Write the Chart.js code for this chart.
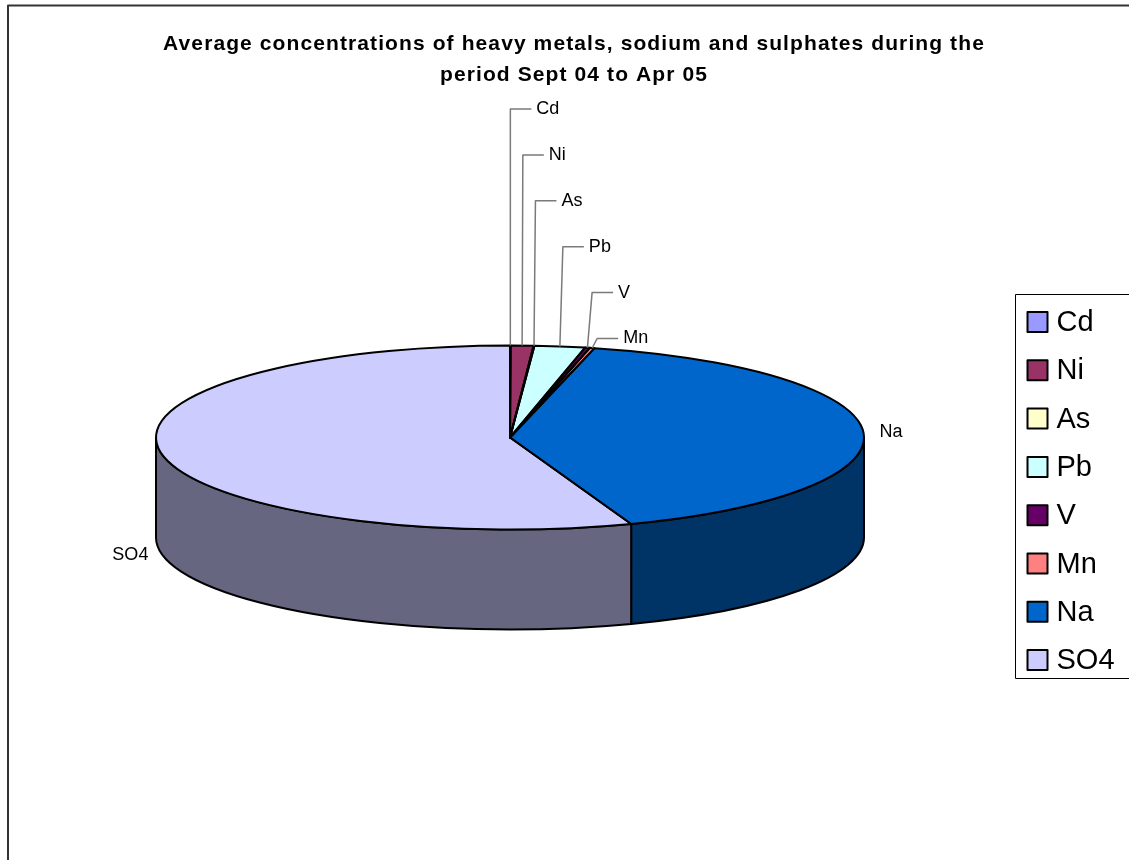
<!DOCTYPE html>
<html>
<head>
<meta charset="utf-8">
<script src="https://cdn.jsdelivr.net/npm/chart.js@4/dist/chart.umd.min.js"></script>
<style>
  html, body { margin: 0; padding: 0; background: #fff; }
  canvas { display: block; }
</style>
</head>
<body>
<canvas id="chart" width="1129" height="860"></canvas>
<script>
// Species measured and their share of the total average concentration (%)
const species = ['Cd', 'Ni', 'As', 'Pb', 'V', 'Mn', 'Na', 'SO4'];
const shares = [0.03, 1.03, 0.04, 2.30, 0.22, 0.22, 40.60, 55.56];
const colours = ['#9999FF', '#993366', '#FFFFCC', '#CCFFFF', '#660066', '#FF8080', '#0066CC', '#CCCCFF'];
const titleLines = [
  'Average concentrations of heavy metals, sodium and sulphates during the',
  'period Sept 04 to Apr 05'
];

const FONT = '"Liberation Sans", Arial, Helvetica, sans-serif';

// Tilted-disc projection: where the disc sits, how flat it looks, how thick it is
const DISC = { cx: 510, cy: 437.5, tilt: 92 / 354, depth: 100 };
// Stacked call-outs for the thin slices
const CALLOUT = { top: 109, step: 45.9, arm: 21, gap: 5, lean: 0.06, limit: 5 };
// Legend box
const LEGEND = { x: 1015.5, y: 294.5, w: 200, h: 384, swatch: 20, first: 322, step: 48.3 };

function darken(hex, f) {
  const n = parseInt(hex.slice(1), 16);
  const r = (n >> 16) & 255, g = (n >> 8) & 255, b = n & 255;
  return 'rgb(' + Math.round(r * f) + ',' + Math.round(g * f) + ',' + Math.round(b * f) + ')';
}

function toDisc(ctx, arc) {
  ctx.translate(DISC.cx, DISC.cy);
  ctx.scale(1, DISC.tilt);
  ctx.translate(-arc.x, -arc.y);
}

const disc3d = {
  id: 'disc3d',
  beforeDraw(chart) {
    // the title is set with a little tracking
    chart.ctx.letterSpacing = '1.1px';
  },
  beforeDatasetsDraw(chart) {
    const ctx = chart.ctx;
    ctx.letterSpacing = '0px';
    const arcs = chart.getDatasetMeta(0).data;
    const R = arcs[0].outerRadius;
    const ry = R * DISC.tilt;
    // side wall of each slice, front half of the disc only
    arcs.forEach((arc, i) => {
      const a1 = Math.max(arc.startAngle, 0);
      const a2 = Math.min(arc.endAngle, Math.PI);
      if (a2 <= a1) return;
      ctx.beginPath();
      ctx.ellipse(DISC.cx, DISC.cy, R, ry, 0, a1, a2);
      ctx.ellipse(DISC.cx, DISC.cy + DISC.depth, R, ry, 0, a2, a1, true);
      ctx.closePath();
      ctx.fillStyle = darken(colours[i], 0.5);
      ctx.fill();
      ctx.lineWidth = 2;
      ctx.lineJoin = 'round';
      ctx.strokeStyle = '#000';
      ctx.stroke();
    });
    // top faces are drawn by the library through the flattening transform
    ctx.save();
    toDisc(ctx, arcs[0]);
  },
  afterDatasetsDraw(chart) {
    const ctx = chart.ctx;
    ctx.restore();
    const arcs = chart.getDatasetMeta(0).data;
    const R = arcs[0].outerRadius;
    const ry = R * DISC.tilt;

    // slice outlines on the top face, stroked at device line width
    arcs.forEach(arc => {
      ctx.save();
      toDisc(ctx, arc);
      ctx.beginPath();
      ctx.moveTo(arc.x, arc.y);
      ctx.arc(arc.x, arc.y, R, arc.startAngle, arc.endAngle);
      ctx.closePath();
      ctx.restore();
      ctx.lineWidth = 2;
      ctx.lineJoin = 'round';
      ctx.strokeStyle = '#000';
      ctx.stroke();
    });

    // category labels
    ctx.font = '18px ' + FONT;
    ctx.fillStyle = '#000';
    ctx.textBaseline = 'middle';
    const total = shares.reduce((s, v) => s + v, 0);
    let row = 0;
    arcs.forEach((arc, i) => {
      const mid = (arc.startAngle + arc.endAngle) / 2;
      const ax = DISC.cx + R * Math.cos(mid);
      const ay = DISC.cy + ry * Math.sin(mid);
      if (shares[i] / total * 100 < CALLOUT.limit) {
        const ly = CALLOUT.top + CALLOUT.step * row++;
        const tx = ax + (ax - DISC.cx) * CALLOUT.lean;
        ctx.beginPath();
        ctx.moveTo(ax, ay);
        ctx.lineTo(tx, ly);
        ctx.lineTo(tx + CALLOUT.arm, ly);
        ctx.lineWidth = 1.5;
        ctx.strokeStyle = '#7a7a7a';
        ctx.stroke();
        ctx.textAlign = 'left';
        ctx.fillText(species[i], tx + CALLOUT.arm + CALLOUT.gap, ly);
      } else {
        const front = Math.sin(mid) > 0;
        const y = ay + (front ? DISC.depth + 2 : 0);
        if (Math.cos(mid) >= 0) {
          ctx.textAlign = 'left';
          ctx.fillText(species[i], ax + 16, y);
        } else {
          ctx.textAlign = 'right';
          ctx.fillText(species[i], ax - 13, y);
        }
      }
    });
  },
  afterDraw(chart) {
    const ctx = chart.ctx;
    // outer frame
    ctx.lineWidth = 2;
    ctx.strokeStyle = '#333';
    ctx.strokeRect(8, 5.5, 1200, 1000);

    // legend
    ctx.lineWidth = 1;
    ctx.strokeStyle = '#000';
    ctx.strokeRect(LEGEND.x, LEGEND.y, LEGEND.w, LEGEND.h);
    ctx.font = '29px ' + FONT;
    ctx.textAlign = 'left';
    ctx.textBaseline = 'middle';
    species.forEach((name, i) => {
      const cy = LEGEND.first + LEGEND.step * i;
      const sx = LEGEND.x + 12;
      ctx.fillStyle = colours[i];
      ctx.fillRect(sx, cy - LEGEND.swatch / 2, LEGEND.swatch, LEGEND.swatch);
      ctx.lineWidth = 2;
      ctx.strokeStyle = '#000';
      ctx.strokeRect(sx, cy - LEGEND.swatch / 2, LEGEND.swatch, LEGEND.swatch);
      ctx.fillStyle = '#000';
      ctx.fillText(name, sx + LEGEND.swatch + 9, cy + 1);
    });
  }
};

new Chart(document.getElementById('chart'), {
  type: 'pie',
  data: {
    labels: species,
    datasets: [{
      data: shares,
      backgroundColor: colours,
      borderWidth: 0,
      radius: 354,
      clip: false
    }]
  },
  options: {
    responsive: false,
    devicePixelRatio: 1,
    animation: false,
    events: [],
    layout: { padding: { left: 19, right: 0, top: 0, bottom: 0 } },
    plugins: {
      legend: { display: false },
      tooltip: { enabled: false },
      title: {
        display: true,
        text: titleLines,
        color: '#000',
        font: { family: FONT, size: 21, weight: 'bold', lineHeight: 1.5 },
        padding: { top: 28, bottom: 10 }
      }
    }
  },
  plugins: [disc3d]
});
</script>
</body>
</html>
